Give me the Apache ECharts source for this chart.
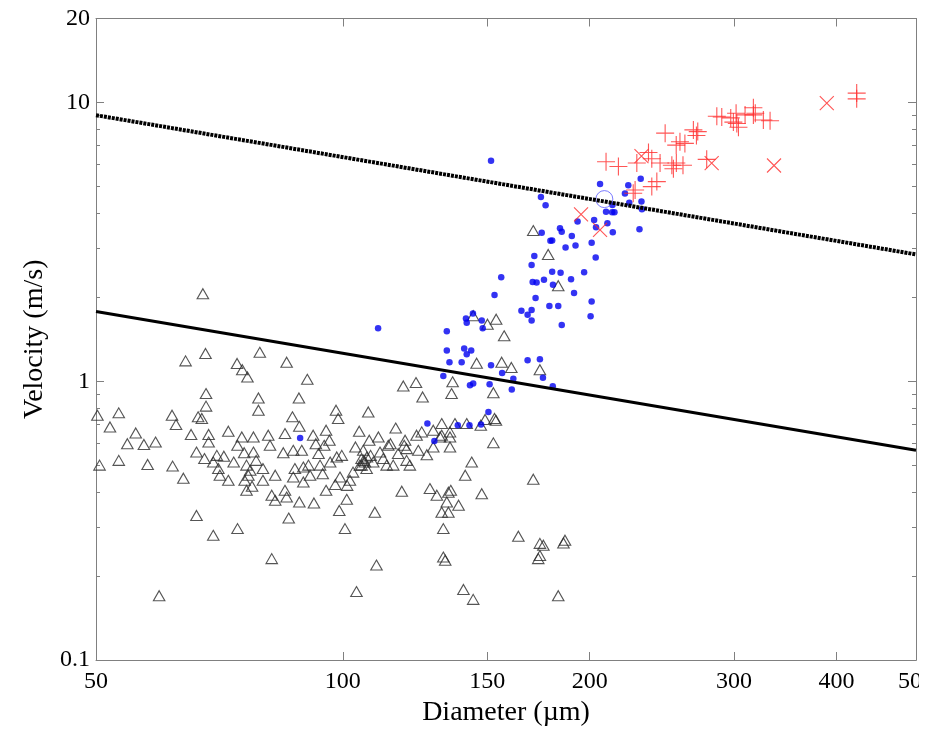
<!DOCTYPE html>
<html><head><meta charset="utf-8">
<script src="https://cdn.jsdelivr.net/npm/echarts@6/dist/echarts.min.js"></script>
<style>html,body{margin:0;padding:0;background:#fff}#chart{width:939px;height:730px}</style>
</head><body><div id="chart"></div>
<script>
// ---- axis ticks ----
const xTicks = [50, 100, 150, 200, 300, 400, 500];
const yLabelTicks = [0.1, 1, 10, 20];
const yMinorTicks = [0.2, 0.3, 0.4, 0.5, 0.6, 0.7, 0.8, 0.9, 2, 3, 4, 5, 6, 7, 8, 9];

// ---- reference lines (diameter µm, velocity m/s) ----
const lineDiameters = [50, 500];
const upperLineVelocity = [9.0, 2.85];
const lowerLineVelocity = [1.78, 0.565];

// ---- data: [diameter (µm), velocity (m/s)] ----
const triangles = [
[50.2,0.755],[50.5,0.50],[52.0,0.685],[53.3,0.77],[53.3,0.52],[54.6,0.597],[55.9,0.652],[57.2,0.593],[57.8,0.503],[59.1,0.605],
[59.7,0.170],[61.9,0.755],[62.0,0.496],[62.6,0.699],[63.9,0.449],[65.3,0.644],[66.3,0.330],[66.3,0.557],[66.6,0.745],[67.3,0.735],
[68.1,0.903],[68.1,0.814],[67.8,0.528],[68.6,0.644],[68.6,0.605],[69.5,0.513],[69.5,0.280],[70.2,0.542],[70.5,0.486],[70.8,0.460],
[71.6,0.538],[72.5,0.662],[72.5,0.441],[73.6,0.513],[74.4,0.296],[74.4,0.589],[75.3,0.631],[75.8,0.554],[76.3,0.50],[76.3,0.406],
[76.7,0.460],[76.5,1.036],[77.8,0.631],[77.8,0.557],[78.9,0.871],[78.9,0.787],[79.9,0.486],[79.9,0.441],[81.1,0.640],[81.5,0.589],
[81.9,0.231],[81.9,0.390],[82.7,0.460],[82.7,0.374],[84.6,0.554],[85.0,0.649],[85.0,0.406],[85.4,0.384],[85.9,0.323],[86.8,0.745],
[87.0,0.565],[87.0,0.453],[87.4,0.486],[88.4,0.871],[88.5,0.689],[88.5,0.369],[89.1,0.565],[89.5,0.492],[89.5,0.435],[90.5,1.016],
[90.8,0.50],[91.2,0.460],[92.0,0.640],[92.2,0.366],[92.7,0.597],[93.4,0.550],[93.8,0.50],[94.5,0.466],[94.9,0.589],[95.4,0.667],
[95.4,0.406],[96.3,0.614],[96.5,0.513],[97.9,0.426],[98.1,0.787],[98.3,0.535],[98.7,0.735],[99.0,0.344],[99.2,0.453],[99.7,0.542],
[100.6,0.296],[101.1,0.377],[101.2,0.423],[102.0,0.441],[102.9,0.472],[103.9,0.176],[103.6,0.581],[104.7,0.662],[104.9,0.50],[105.4,0.528],
[106.4,0.513],[105.9,0.565],[106.9,0.486],[107.4,0.776],[107.7,0.614],[108.1,0.542],[108.9,0.513],[109.4,0.339],[109.9,0.219],[110.5,0.631],
[111.0,0.557],[112.0,0.528],[113.1,0.50],[113.6,0.589],[114.3,0.597],[115.2,0.50],[116.0,0.679],[116.8,0.550],[118.0,0.403],[118.5,0.962],
[118.8,0.589],[119.1,0.614],[119.6,0.52],[120.7,0.50],[122.8,0.989],[123.0,0.640],[123.6,0.565],[124.8,0.658],[125.1,0.878],[126.6,0.545],
[127.7,0.412],[128.9,0.581],[130.2,0.390],[131.4,0.631],[132.0,0.705],[132.6,0.296],[132.6,0.234],[133.3,0.228],[133.9,0.369],[134.5,0.400],
[134.5,0.339],[135.1,0.581],[135.1,0.658],[135.7,0.903],[136.1,0.995],[138.4,0.359],[140.3,0.179],[141.0,0.460],
[67.5,2.06],[68.0,1.257],[64.3,1.183],[74.3,1.158],[75.4,1.10],[79.2,1.27],[85.4,1.17],
[170.7,3.47],[178.0,2.85],[183.1,2.20],[144.2,1.717],[150.1,1.602],[153.8,1.668],[157.3,1.455],
[145.6,1.16],[156.2,1.17],[160.5,1.12],[173.9,1.10],
[152.6,0.909],[153.1,0.735],[153.7,0.724],[149.1,0.729],[147.3,0.695],[141.6,0.705],[137.0,0.705],
[152.6,0.601],[143.6,0.513],[170.7,0.445],[147.7,0.395],[163.7,0.278],[173.9,0.262],[175.6,0.258],[173.9,0.237],[173.1,0.231],
[186.6,0.269],[185.8,0.263],[144.2,0.165],[183.1,0.170],
[135.4,0.406],[132.0,0.339],[128.9,0.667],[132.0,0.640],[135.1,0.631],[119.6,0.573],
[77.1,0.479],[77.5,0.420],[78.4,0.520],[75.9,0.441],[106.0,0.52],[105.4,0.50],[107.0,0.535]
];

const blueDots = [
[151.6,6.18],[174.4,4.58],[176.7,4.28],[205.9,5.10],[222.9,5.05],[230.8,5.32],[220.8,4.71],[223.5,4.37],[231.3,4.41],[231.6,4.14],
[213.2,4.29],[209.4,4.05],[214.4,4.04],[213.0,4.04],[210.2,3.69],[213.4,3.42],[230.0,3.51],[202.5,3.79],[203.6,3.57],[193.3,3.74],
[201.1,3.14],[203.4,2.78],[184.0,3.54],[184.9,3.44],[174.8,3.41],[180.0,3.20],[179.1,3.19],[190.2,3.32],[186.9,3.02],[192.2,3.07],
[171.2,2.81],[169.9,2.61],[156.0,2.36],[153.1,2.04],[170.4,2.27],[172.3,2.26],[175.9,2.31],[180.0,2.47],[184.3,2.45],[180.4,2.22],
[183.1,1.86],[178.6,1.86],[189.8,2.32],[191.4,2.07],[196.9,2.46],[201.1,1.93],[200.5,1.71],[184.9,1.59],[171.8,1.99],[165.1,1.79],
[169.9,1.80],[168.0,1.73],[169.9,1.65],[144.1,1.75],[147.7,1.65],[148.1,1.55],[143.4,1.29],[168.0,1.19],[173.9,1.20],[151.6,1.14],
[133.9,1.51],[133.9,1.29],[140.6,1.31],[141.6,1.25],[134.9,1.17],[139.6,1.17],[141.3,1.68],[141.6,1.62],[110.4,1.55],
[132.6,1.044],[142.9,0.967],[144.2,0.981],[156.4,1.071],[151.0,0.975],[161.4,1.02],[160.7,0.934],[175.4,1.03],[180.3,0.96],
[150.5,0.776],[147.4,0.70],[142.7,0.695],[138.1,0.695],[126.8,0.705],[129.3,0.61],[88.7,0.626]
];

const redPlus = [
[423.3,10.8],[423.3,10.3],[316.7,9.57],[316.7,9.02],[325.7,8.65],[331.9,8.60],[301.7,9.15],[297.2,8.8],[299.4,8.5],[302.3,8.4],
[303.7,8.15],[289.8,8.87],[309.4,9.02],[318.4,9.15],[285.8,8.92],
[247.2,7.76],[257.7,7.23],[255.0,7.03],[267.6,7.97],[270.9,7.86],[269.9,7.61],[261.3,7.13],
[209.4,6.13],[216.8,5.89],[228.3,6.06],[235.9,6.61],[238.1,6.28],[243.7,6.06],[251.9,5.95],[255.1,6.06],[259.9,5.95],[277.8,6.25],
[253.0,5.78],[241.5,5.20],[238.1,4.99],[227.2,4.85],[226.0,4.72]
];

const redCross = [[389.2,9.94],[335.6,5.94],[281.7,6.06],[231.3,6.42],[195.2,3.97],[205.9,3.49]];

const openCircle = [[208.4,4.50]];

// ---- build ----
const axisGray = '#808080';
const serif = "'Liberation Serif', 'Times New Roman', serif";
const upperLine = lineDiameters.map((d, i) => [d, upperLineVelocity[i]]);
const lowerLine = lineDiameters.map((d, i) => [d, lowerLineVelocity[i]]);

function xAxis(pos, withLabels) {
  return {
    type: 'log', logBase: 10, min: 50, max: 500, position: pos,
    axisLine: { show: true, onZero: false, lineStyle: { color: axisGray, width: 1 } },
    axisTick: { show: true, inside: true, length: 8, customValues: xTicks, lineStyle: { color: axisGray } },
    axisLabel: { show: withLabels, customValues: xTicks, margin: 10, color: '#000', fontFamily: serif, fontSize: 24,
                 formatter: v => String(v) },
    splitLine: { show: false },
    name: withLabels ? 'Diameter (µm)' : '', nameLocation: 'middle', nameGap: 35,
    nameTextStyle: { color: '#000', fontFamily: serif, fontSize: 28 }
  };
}
function yAxis(pos, ticks, len, withLabels) {
  return {
    type: 'log', logBase: 10, min: 0.1, max: 20, position: pos,
    axisLine: { show: true, onZero: false, lineStyle: { color: axisGray, width: 1 } },
    axisTick: { show: true, inside: true, length: len, customValues: ticks, lineStyle: { color: axisGray } },
    axisLabel: { show: withLabels, customValues: yLabelTicks, margin: 6, color: '#000', fontFamily: serif, fontSize: 24,
                 formatter: v => String(v) },
    splitLine: { show: false },
    name: withLabels ? 'Velocity (m/s)' : '', nameLocation: 'middle', nameGap: 44, nameRotate: 90,
    nameTextStyle: { color: '#000', fontFamily: serif, fontSize: 28 }
  };
}

const chart = echarts.init(document.getElementById('chart'), null, { renderer: 'canvas' });
chart.setOption({
  animation: false,
  backgroundColor: '#fff',
  grid: { left: 96, right: 23, top: 18.5, bottom: 70, containLabel: false, outerBoundsMode: 'none' },
  xAxis: [ xAxis('bottom', true), xAxis('top', false) ],
  yAxis: [ yAxis('left', yLabelTicks, 8, true), yAxis('right', yLabelTicks, 8, false),
           yAxis('left', yMinorTicks, 4, false), yAxis('right', yMinorTicks, 4, false) ],
  series: [
    { type: 'scatter', data: triangles, symbol: 'triangle', symbolSize: [11.5, 10],
      itemStyle: { color: 'rgba(0,0,0,0)', borderColor: '#2a2a2a', borderWidth: 1.1 }, z: 2 },
    { type: 'scatter', data: blueDots, symbol: 'circle', symbolSize: 6.5,
      itemStyle: { color: '#0000f0', borderWidth: 0 }, z: 3 },
    { type: 'scatter', data: openCircle, symbol: 'circle', symbolSize: 17,
      itemStyle: { color: 'rgba(0,0,0,0)', borderColor: '#5a5aff', borderWidth: 1 }, z: 3 },
    { type: 'scatter', data: redPlus, symbol: 'path://M0,5L10,5M5,0L5,10', symbolSize: 18,
      itemStyle: { color: 'rgba(0,0,0,0)', borderColor: '#ff2a2a', borderWidth: 1.1 }, z: 4 },
    { type: 'scatter', data: redCross, symbol: 'path://M0,0L10,10M10,0L0,10', symbolSize: 14,
      itemStyle: { color: 'rgba(0,0,0,0)', borderColor: '#ff2a2a', borderWidth: 1.1 }, z: 4 },
    { type: 'line', data: upperLine, symbol: 'none', z: 5,
      lineStyle: { color: '#000', width: 4, type: [3, 1] } },
    { type: 'line', data: lowerLine, symbol: 'none', z: 5,
      lineStyle: { color: '#000', width: 3 } }
  ],
  graphic: [
    { type: 'rect', z: 100, left: 919, top: 664, shape: { width: 20, height: 40 }, style: { fill: '#fff' } }
  ]
});
</script>
</body></html>
